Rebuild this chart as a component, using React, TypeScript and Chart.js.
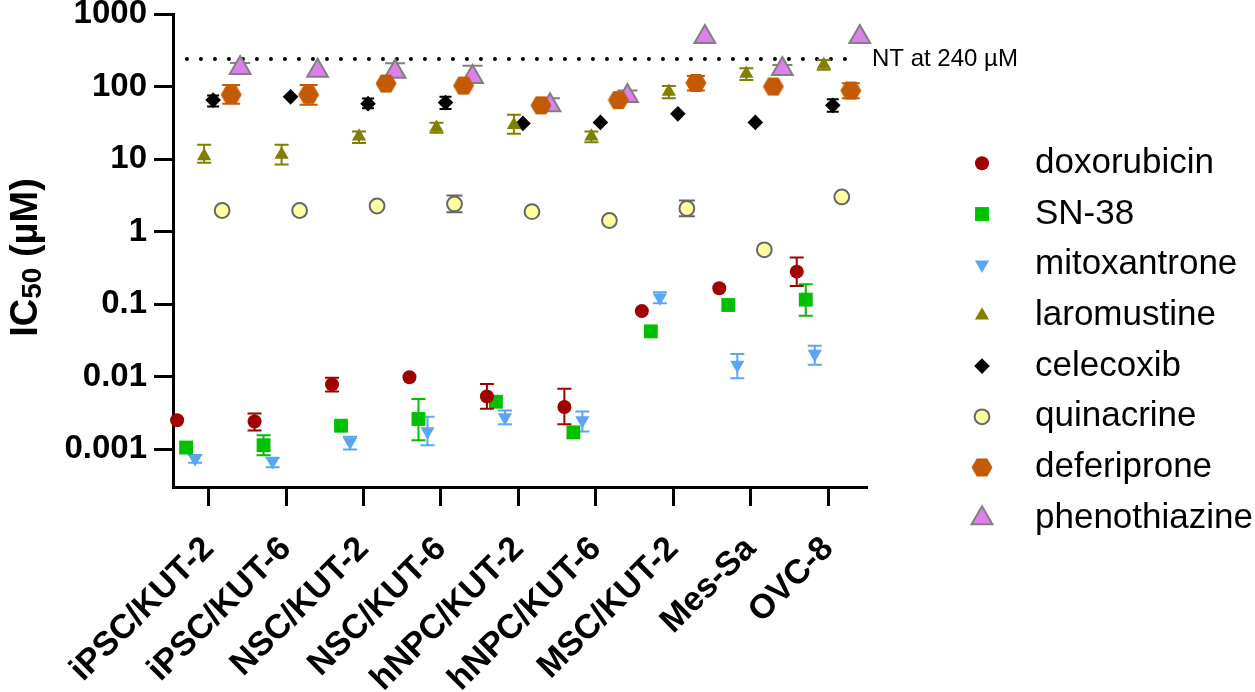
import React, { useEffect, useRef } from 'react';
import { Chart, registerables } from 'chart.js';
import { drawPoint } from 'chart.js/helpers';

Chart.register(...registerables);

// ---------- data ----------
const categories = ['iPSC/KUT-2', 'iPSC/KUT-6', 'NSC/KUT-2', 'NSC/KUT-6', 'hNPC/KUT-2', 'hNPC/KUT-6', 'MSC/KUT-2', 'Mes-Sa', 'OVC-8'];
const seriesNames = ['doxorubicin', 'SN-38', 'mitoxantrone', 'laromustine', 'celecoxib', 'quinacrine', 'deferiprone', 'phenothiazine'];

const doxorubicin = [0.0025, 0.0024, 0.0078, 0.0098, 0.0053, 0.0038, 0.080, 0.165, 0.28];
const doxorubicinLow = [null, 0.0018, 0.0062, null, 0.0036, 0.0022, null, null, 0.178];
const doxorubicinHigh = [null, 0.0031, 0.0096, null, 0.0079, 0.0068, null, null, 0.44];

const sn38 = [0.00105, 0.00113, 0.0021, 0.0026, 0.0045, 0.0017, 0.042, 0.097, 0.115];
const sn38Low = [null, 0.00082, null, 0.00132, null, null, null, null, 0.069];
const sn38High = [null, 0.00155, null, 0.0049, null, null, null, null, 0.188];

const mitoxantrone = [0.00074, 0.00068, 0.00126, 0.00176, 0.00275, 0.0025, 0.123, 0.0145, 0.0205];
const mitoxantroneLow = [0.00065, 0.00056, 0.00099, 0.00113, 0.0022, 0.00175, 0.103, 0.0095, 0.0145];
const mitoxantroneHigh = [0.00083, 0.00076, 0.00148, 0.0028, 0.0034, 0.0033, 0.145, 0.0205, 0.0267];

const laromustine = [11, 11.5, 20.5, 27, 29.5, 20.5, 85, 150, 200];
const laromustineLow = [8.9, 8.4, 16.6, 23, 22.3, 17, 69, 123, 170];
const laromustineHigh = [15.7, 15.7, 24, 31.7, 40.7, 24, 102, 178, 232];

const celecoxib = [65, 72, 58, 60, 31, 32, 42, 32, 55];
const celecoxibLow = [53, null, 50, 49, null, null, null, null, 45];
const celecoxibHigh = [75, null, 68.5, 72, null, null, null, null, 67];

const quinacrine = [1.95, 1.95, 2.25, 2.4, 1.88, 1.42, 2.08, 0.56, 3.0];
const quinacrineLow = [null, null, null, 1.85, null, null, 1.63, null, null];
const quinacrineHigh = [null, null, null, 3.14, null, null, 2.68, null, null];

const deferiprone = [77, 77, 110, 103, 55, 65, 112, 100, 88];
const deferiproneLow = [57.7, 56, null, null, null, null, 88, null, 69];
const deferiproneHigh = [105, 105, null, null, null, null, 140, null, 111];

const phenothiazine = [180, 165, 160, 135, 55, 74, 480, 175, 480];
const phenothiazineLow = [null, null, null, null, null, null, null, null, null];
const phenothiazineHigh = [211, null, 210, 194, 69, 88, null, 198, null];

const ntValue = 240;
const ntLabel = 'NT at 240 µM';
const ntRange = [-0.28, 8.32];

const yTicks = [0.001, 0.01, 0.1, 1, 10, 100, 1000];
const yTickLabels = ['0.001', '0.01', '0.1', '1', '10', '100', '1000'];

const seriesValues = [doxorubicin, sn38, mitoxantrone, laromustine, celecoxib, quinacrine, deferiprone, phenothiazine];
const seriesLow = [doxorubicinLow, sn38Low, mitoxantroneLow, laromustineLow, celecoxibLow, quinacrineLow, deferiproneLow, phenothiazineLow];
const seriesHigh = [doxorubicinHigh, sn38High, mitoxantroneHigh, laromustineHigh, celecoxibHigh, quinacrineHigh, deferiproneHigh, phenothiazineHigh];

// ---------- styles ----------
const FONT = "'Liberation Sans', Arial, Helvetica, sans-serif";

function makeHexagon(color: string) {
  const c = document.createElement('canvas');
  c.width = 22;
  c.height = 20;
  const g = c.getContext('2d')!;
  g.fillStyle = color;
  g.beginPath();
  for (let k = 0; k < 6; k++) {
    const a = (Math.PI / 3) * k;
    const px = 11 + 10.5 * Math.cos(a);
    const py = 10 + 10.5 * Math.sin(a);
    if (k === 0) g.moveTo(px, py);
    else g.lineTo(px, py);
  }
  g.closePath();
  g.fill();
  return c;
}

type SeriesStyle = {
  pointStyle: any;
  rotation?: number;
  radius: number;
  bg: string;
  border: string;
  bw: number;
  cap: number;
  err: string;
};

export default function App() {
  const ref = useRef<HTMLCanvasElement | null>(null);

  useEffect(() => {
    const canvas = ref.current;
    if (!canvas) return;

    const hex = makeHexagon('#C55A05');
    const styles: SeriesStyle[] = [
      { pointStyle: 'circle', radius: 7, bg: '#A00000', border: '#A00000', bw: 0, cap: 7, err: '#A00000' },
      { pointStyle: 'rect', radius: 9.8, bg: '#00C000', border: '#00C000', bw: 0, cap: 7, err: '#00C000' },
      { pointStyle: 'triangle', rotation: 180, radius: 8.2, bg: '#5AA5F5', border: '#5AA5F5', bw: 0, cap: 7, err: '#5AA5F5' },
      { pointStyle: 'triangle', radius: 8.2, bg: '#808000', border: '#808000', bw: 0, cap: 7, err: '#808000' },
      { pointStyle: 'rectRot', radius: 7.8, bg: '#000000', border: '#000000', bw: 0, cap: 6, err: '#000000' },
      { pointStyle: 'circle', radius: 7.4, bg: '#FFFFA0', border: '#666666', bw: 2, cap: 8, err: '#666666' },
      { pointStyle: hex, radius: 10, bg: '#C55A05', border: '#C55A05', bw: 0, cap: 9, err: '#C55A05' },
      { pointStyle: 'triangle', radius: 12, bg: '#DD80EE', border: '#808080', bw: 2, cap: 10, err: '#808080' },
    ];

    const step = 0.1163;
    const datasets: any[] = seriesValues.map((vals, s) => ({
      label: seriesNames[s],
      data: vals.map((v, i) => ({ x: i + (s - 3.5) * step, y: v })),
      pointStyle: styles[s].pointStyle,
      rotation: styles[s].rotation || 0,
      pointRadius: styles[s].radius,
      pointBackgroundColor: styles[s].bg,
      pointBorderColor: styles[s].border,
      pointBorderWidth: styles[s].bw,
      showLine: false,
      clip: false,
    }));
    datasets.push({
      type: 'line',
      label: 'NT',
      data: ntRange.map((x) => ({ x, y: ntValue })),
      showLine: true,
      borderColor: '#000',
      borderWidth: 4,
      borderDash: [0, 14],
      borderCapStyle: 'round',
      pointRadius: 0,
      fill: false,
      clip: false,
    });

    const errorBars = {
      id: 'errorBars',
      beforeDatasetDraw(chart: any, args: any) {
        const s = args.index;
        if (s >= seriesValues.length) return;
        const ctx = chart.ctx;
        const ys = chart.scales.y;
        const st = styles[s];
        ctx.save();
        ctx.strokeStyle = st.err;
        ctx.lineWidth = 2;
        args.meta.data.forEach((pt: any, i: number) => {
          const draw = (v: number | null) => {
            if (v == null) return;
            const py = ys.getPixelForValue(v);
            ctx.beginPath();
            ctx.moveTo(pt.x, pt.y);
            ctx.lineTo(pt.x, py);
            ctx.moveTo(pt.x - st.cap, py);
            ctx.lineTo(pt.x + st.cap, py);
            ctx.stroke();
          };
          draw(seriesLow[s][i]);
          draw(seriesHigh[s][i]);
        });
        ctx.restore();
      },
    };

    const overlay = {
      id: 'overlay',
      afterDraw(chart: any) {
        const ctx = chart.ctx;
        const area = chart.chartArea;
        const ys = chart.scales.y;

        // NT label
        ctx.save();
        ctx.fillStyle = '#000';
        ctx.font = `24px ${FONT}`;
        ctx.textAlign = 'left';
        ctx.textBaseline = 'middle';
        ctx.fillText(ntLabel, area.right + 5, ys.getPixelForValue(ntValue));
        ctx.restore();

        // Y title with subscript
        ctx.save();
        const cy = (area.top + area.bottom) / 2 + 7;
        ctx.translate(37, cy);
        ctx.rotate(-Math.PI / 2);
        const big = `bold 38px ${FONT}`;
        const small = `bold 28px ${FONT}`;
        ctx.font = big;
        const w1 = ctx.measureText('IC').width;
        const w3 = ctx.measureText(' (µM)').width;
        ctx.font = small;
        const w2 = ctx.measureText('50').width;
        const total = w1 + w2 + w3;
        let u = -total / 2;
        ctx.fillStyle = '#000';
        ctx.textBaseline = 'alphabetic';
        ctx.textAlign = 'left';
        ctx.font = big;
        ctx.fillText('IC', u, 0);
        u += w1;
        ctx.font = small;
        ctx.fillText('50', u, 4);
        u += w2;
        ctx.font = big;
        ctx.fillText(' (µM)', u, 0);
        ctx.restore();

        // Legend
        ctx.save();
        seriesNames.forEach((name, s) => {
          const y = 163.3 + s * 50.7;
          const st = styles[s];
          ctx.fillStyle = st.bg;
          ctx.strokeStyle = st.border;
          ctx.lineWidth = st.bw;
          drawPoint(ctx, { pointStyle: st.pointStyle, rotation: st.rotation || 0, radius: st.radius, borderWidth: st.bw } as any, 982, y);
          ctx.fillStyle = '#000';
          ctx.font = `35px ${FONT}`;
          ctx.textAlign = 'left';
          ctx.textBaseline = 'middle';
          ctx.fillText(name, 1035, y);
        });
        ctx.restore();
      },
    };

    const yTickFont = { family: FONT, size: 33, weight: 'bold' as const };
    const xTickFont = { family: FONT, size: 34, weight: 'bold' as const };
    const chart = new Chart(canvas, {
      type: 'scatter',
      data: { datasets },
      plugins: [errorBars, overlay],
      options: {
        responsive: false,
        animation: false,
        devicePixelRatio: 1,
        layout: { padding: { left: 0, right: 388, top: 14, bottom: 0 } },
        plugins: { legend: { display: false }, tooltip: { enabled: false }, title: { display: false } },
        scales: {
          x: {
            type: 'linear',
            min: -0.46,
            max: 8.5,
            grid: { drawOnChartArea: false, drawTicks: true, tickLength: 19, tickWidth: 3, tickColor: '#000' },
            border: { display: true, width: 3, color: '#000' },
            ticks: {
              autoSkip: false,
              minRotation: 45,
              maxRotation: 45,
              padding: 23,
              color: '#000',
              font: xTickFont,
              callback: (v: any) => categories[Math.round(Number(v))] ?? '',
            },
            afterBuildTicks: (scale: any) => {
              scale.ticks = categories.map((_, i) => ({ value: i }));
            },
            afterFit: (scale: any) => {
              scale.height = 205;
              scale.paddingLeft = 0;
              scale.paddingRight = 0;
            },
          },
          y: {
            type: 'logarithmic',
            min: 0.000316,
            max: 1000,
            grid: { drawOnChartArea: false, drawTicks: true, tickLength: 19, tickWidth: 3, tickColor: '#000' },
            border: { display: true, width: 3, color: '#000' },
            ticks: {
              padding: 7,
              color: '#000',
              font: yTickFont,
              callback: (v: any) => {
                const k = yTicks.findIndex((t) => Math.abs(t - Number(v)) / t < 1e-6);
                return k >= 0 ? yTickLabels[k] : '';
              },
            },
            afterBuildTicks: (scale: any) => {
              scale.ticks = yTicks.map((v) => ({ value: v }));
            },
            afterFit: (scale: any) => {
              scale.width = 173;
              scale.paddingTop = 0;
              scale.paddingBottom = 0;
            },
          },
        },
      } as any,
    });

    return () => chart.destroy();
  }, []);

  return (
    <div style={{ position: 'fixed', left: 0, top: 0, width: 1255, height: 692, background: '#fff' }}>
      <canvas ref={ref} width={1255} height={692} style={{ display: 'block', width: 1255, height: 692 }} />
    </div>
  );
}
